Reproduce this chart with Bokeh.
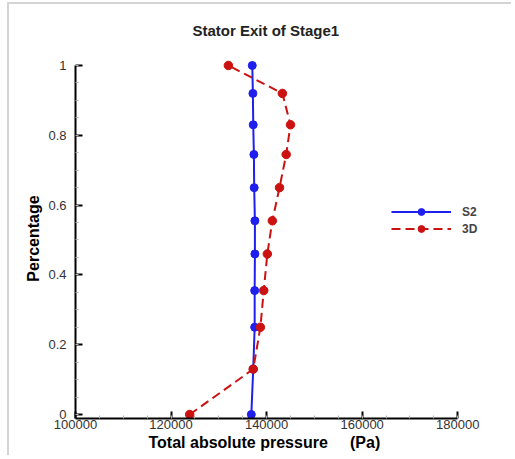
from bokeh.plotting import figure
from bokeh.models import Range1d, FixedTicker, Legend, LegendItem, Title, NumeralTickFormatter
from bokeh.embed import file_html
from bokeh.resources import INLINE

# Data
percentage = [0.0, 0.13, 0.25, 0.355, 0.46, 0.555, 0.65, 0.745, 0.83, 0.92, 1.0]
s2_pressure = [136800, 137200, 137500, 137500, 137550, 137550, 137400, 137340, 137200, 137130, 137000]
d3_pressure = [123900, 137200, 138700, 139400, 140150, 141200, 142700, 144100, 145000, 143300, 132000]

x_major = [100000, 120000, 140000, 160000, 180000]
x_minor = [100000 + 5000 * i for i in range(17)]
y_major = [0, 0.2, 0.4, 0.6, 0.8, 1.0]
y_minor = [round(0.05 * i, 2) for i in range(21)]

p = figure(width=504, height=453, output_backend="svg", toolbar_location=None,
           x_range=Range1d(100000, 190000), y_range=Range1d(-0.0115, 1.02),
           min_border_left=66, min_border_right=8, min_border_top=54, min_border_bottom=39,
           styles={"margin-left": "7px", "margin-top": "2px",
                   "border-left": "2px solid #d4d4d4", "border-top": "2px solid #d4d4d4"})

title = Title(text="Stator Exit of Stage1", align="left", offset=117, vertical_align="top",
              text_font="Liberation Sans", text_font_size="15px",
              text_font_style="bold", text_color="#222222", standoff=35)
p.add_layout(title, "above")

p.outline_line_color = None
p.grid.visible = False

# axes
p.xaxis.bounds = (100000, 180000)
p.yaxis.bounds = (-0.0115, 1)
for ax in (p.xaxis[0], p.yaxis[0]):
    ax.axis_line_width = 2
    ax.axis_line_color = "black"
    ax.major_tick_in = 7
    ax.major_tick_out = 0
    ax.major_tick_line_width = 2
    ax.minor_tick_in = 3
    ax.minor_tick_out = 0
    ax.minor_tick_line_color = "#b0b0b0"
    ax.major_label_text_font = "Liberation Sans"
    ax.major_label_text_font_size = "13px"
    ax.major_label_text_color = "#333333"
    ax.axis_label_text_font = "Liberation Sans"
    ax.axis_label_text_font_size = "16px"
    ax.axis_label_text_font_style = "bold"
    ax.axis_label_text_color = "black"

p.xaxis.ticker = FixedTicker(ticks=x_major, minor_ticks=x_minor)
p.xaxis.formatter = NumeralTickFormatter(format="0")
p.yaxis.ticker = FixedTicker(ticks=y_major, minor_ticks=y_minor)
p.yaxis.major_label_overrides = {0: "0", 1: "1"}
p.xaxis.major_label_standoff = 1
p.yaxis.major_label_standoff = 9
p.yaxis.axis_label_standoff = 3
p.yaxis.axis_label = "Percentage"

xlabel = Title(text="Total absolute pressure\u00a0\u00a0\u00a0\u00a0\u00a0(Pa)", align="left", offset=73,
               text_font="Liberation Sans", text_font_size="16px",
               text_font_style="bold", text_color="black", standoff=0)
p.add_layout(xlabel, "below")

# series
blue = "#1f1fee"
red = "#cc1111"
l1 = p.line(s2_pressure, percentage, line_color=blue, line_width=2)
m1 = p.scatter(s2_pressure, percentage, marker="circle", size=8, fill_color=blue, line_color=blue)
l2 = p.line(d3_pressure, percentage, line_color=red, line_width=2, line_dash="9 5")
m2 = p.scatter(d3_pressure, percentage, marker="circle", size=8.5, fill_color=red, line_color=red)

legend = Legend(items=[LegendItem(label="S2", renderers=[l1, m1]),
                       LegendItem(label="3D", renderers=[l2, m2])],
                location=(316, 181))
legend.border_line_alpha = 0
legend.background_fill_alpha = 0
legend.padding = 0
legend.margin = 0
legend.spacing = 0
legend.glyph_width = 60
legend.glyph_height = 17
legend.label_height = 17
legend.label_standoff = 11
legend.label_text_font = "Liberation Sans"
legend.label_text_font_size = "12px"
legend.label_text_font_style = "bold"
p.add_layout(legend, "center")

open("out.html", "w").write(file_html(p, INLINE))
